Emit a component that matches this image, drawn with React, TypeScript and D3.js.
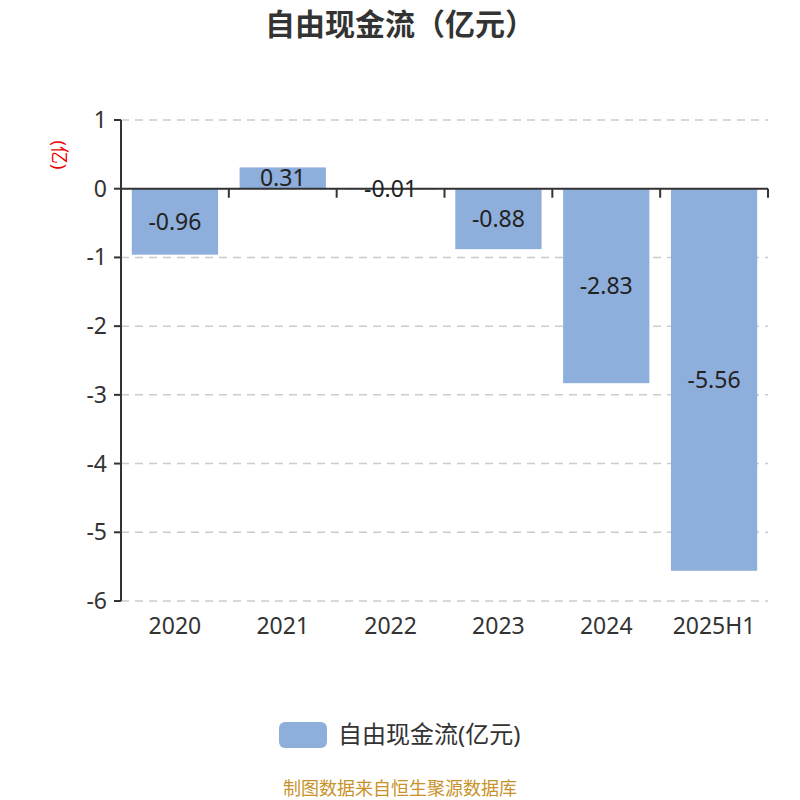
import React from 'react';
import * as d3 from 'd3';

const categories = ['2020', '2021', '2022', '2023', '2024', '2025H1'];
const values = [-0.96, 0.31, -0.01, -0.88, -2.83, -5.56];
const yTicks = [1, 0, -1, -2, -3, -4, -5, -6];

const font = '"Noto Sans", "Noto Sans CJK SC", sans-serif';
const barColor = '#8eaedb';

const App: React.FC = () => {
  const width = 800;
  const height = 800;
  const left = 121;
  const right = 768;
  const top = 120;
  const bottom = 601;

  const x = d3.scaleBand<string>().domain(categories).range([left, right]).paddingInner(0.2).paddingOuter(0.1);
  const xb = d3.scaleBand<string>().domain(categories).range([left, right]);
  const y = d3.scaleLinear().domain([-6, 1]).range([bottom, top]);
  const y0 = y(0);

  return (
    <svg width={width} height={height} style={{ display: 'block', margin: '-8px -8px 0 -8px' }} fontFamily={font}>
      <rect width={width} height={height} fill="#fff" />
      <text x={400} y={35} textAnchor="middle" fontSize={30} fontWeight="bold" fill="#333">
        自由现金流（亿元）
      </text>

      {/* grid */}
      {yTicks.map(t => (
        <line key={'g' + t} x1={left} x2={right} y1={y(t)} y2={y(t)} stroke="#ccc" strokeWidth={1.5} strokeDasharray="8,6" />
      ))}

      {/* bars */}
      {values.map((v, i) => (
        <rect
          key={categories[i]}
          x={x(categories[i])!}
          width={x.bandwidth()}
          y={Math.min(y(v), y0)}
          height={Math.abs(y(v) - y0)}
          fill={barColor}
        />
      ))}

      {/* y axis */}
      <line x1={left} x2={left} y1={top} y2={bottom} stroke="#333" strokeWidth={2} />
      {yTicks.map(t => (
        <g key={'t' + t}>
          <line x1={left - 7} x2={left} y1={y(t)} y2={y(t)} stroke="#333" strokeWidth={2} />
          <text x={left - 14} y={y(t)} dy="0.35em" textAnchor="end" fontSize={23} fill="#333">
            {t}
          </text>
        </g>
      ))}
      <text transform={`translate(58,155) rotate(90)`} textAnchor="middle" dominantBaseline="middle" fontSize={18} fill="#e00">
        (亿)
      </text>

      {/* x axis at zero */}
      <line x1={left} x2={right} y1={y0} y2={y0} stroke="#333" strokeWidth={2} />
      {categories.map(c => (
        <line key={'xt' + c} x1={xb(c)! + xb.bandwidth()} x2={xb(c)! + xb.bandwidth()} y1={y0} y2={y0 + 9} stroke="#333" strokeWidth={2} />
      ))}
      {categories.map(c => (
        <text key={'xl' + c} x={xb(c)! + xb.bandwidth() / 2} y={626} dy="0.35em" textAnchor="middle" fontSize={23} fill="#333">
          {c}
        </text>
      ))}

      {/* value labels */}
      {values.map((v, i) => (
        <text
          key={'v' + i}
          x={x(categories[i])! + x.bandwidth() / 2}
          y={(y(v) + y0) / 2}
          dy="0.35em"
          textAnchor="middle"
          fontSize={23}
          fill="#222"
        >
          {v.toFixed(2)}
        </text>
      ))}

      {/* legend */}
      <rect x={279} y={722} width={48} height={26} rx={6} fill={barColor} />
      <text x={338} y={735} dy="0.35em" fontSize={24} fill="#333">
        自由现金流(亿元)
      </text>

      <text x={400} y={789} dy="0.35em" textAnchor="middle" fontSize={18} fill="#c8922a">
        制图数据来自恒生聚源数据库
      </text>
    </svg>
  );
};

export default App;
